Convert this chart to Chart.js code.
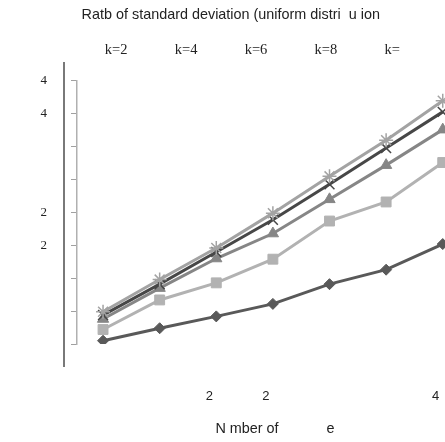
<!DOCTYPE html>
<html>
<head>
<meta charset="utf-8">
<script src="https://cdn.jsdelivr.net/npm/chart.js@4.4.1/dist/chart.umd.min.js"></script>
<style>
  html, body { margin: 0; padding: 0; background: #fff; }
  canvas { display: block; }
</style>
</head>
<body>
<canvas id="chart" width="445" height="442"></canvas>
<script>
// values
const xLabels = ['', '', '2', '2', '', '', '4'];
const yTickValues = [0.5, 1, 1.5, 2, 2.5, 3, 3.5, 4, 4.5];
const yTickLabels = ['', '', '', '2', '2', '', '', '4', '4'];

const seriesNames = ['k=2', 'k=4', 'k=6', 'k=8', 'k='];
const k2 = [0.55, 0.74, 0.92, 1.11, 1.41, 1.63, 2.02];
const k4 = [0.72, 1.17, 1.43, 1.79, 2.37, 2.66, 3.26];
const k6 = [0.88, 1.35, 1.80, 2.18, 2.70, 3.22, 3.76];
const k8 = [0.94, 1.41, 1.90, 2.39, 2.93, 3.48, 4.03];
const k10 = [0.99, 1.48, 1.96, 2.49, 3.05, 3.60, 4.20];

const titleText = 'Ratb of standard deviation (uniform distri  u ion';
const xTitleText = '       N mber of            e';

const styles = [
    { color: '#595959', point: 'rectRot', radius: 5.5 },
    { color: '#b2b2b2', point: 'rect', radius: 7 },
    { color: '#868686', point: 'triangle', radius: 6.5 },
    { color: '#474747', point: 'crossRot', radius: 7 },
    { color: '#a3a3a3', point: 'star', radius: 7 }
];

const allSeries = [k2, k4, k6, k8, k10];

// later series are painted on top, like the original
const datasets = allSeries.map((vals, i) => ({
    label: seriesNames[i],
    data: vals.map((v, j) => ({ x: j + 1, y: v })),
    borderColor: styles[i].color,
    backgroundColor: styles[i].color,
    borderWidth: 3,
    pointStyle: styles[i].point,
    pointRadius: styles[i].radius,
    pointBorderWidth: i >= 3 ? 1.5 : 1,
    order: allSeries.length - i,
    tension: 0
}));

// the dark frame line left of the value axis
const leftRule = {
    id: 'leftRule',
    afterDraw(chart) {
        const { ctx, chartArea } = chart;
        const x = chartArea.left - 13;
        ctx.save();
        ctx.strokeStyle = '#4d4d4d';
        ctx.lineWidth = 1.5;
        ctx.beginPath();
        ctx.moveTo(x, chartArea.top - 19);
        ctx.lineTo(x, chartArea.bottom + 23);
        ctx.stroke();
        ctx.restore();
    }
};

new Chart(document.getElementById('chart'), {
    type: 'line',
    data: { datasets },
    options: {
        responsive: false,
        animation: false,
        layout: { autoPadding: false, padding: { left: 16.5, right: 0, top: 0, bottom: 4 } },
        plugins: {
            title: {
                display: true,
                text: titleText,
                color: '#222',
                font: { family: 'Liberation Sans', size: 14.4, weight: 'normal' },
                padding: { top: 6.5, bottom: 1.2 }
            },
            legend: {
                display: true,
                labels: {
                    boxWidth: 36,
                    boxHeight: 42,
                    padding: 4,
                    color: '#222',
                    font: { family: 'Liberation Serif', size: 14.5 },
                    // no swatches in the original legend, only the names
                    generateLabels: (chart) => Chart.defaults.plugins.legend.labels.generateLabels(chart)
                        .sort((a, b) => a.datasetIndex - b.datasetIndex)
                        .map(item => ({ ...item, fillStyle: 'rgba(0,0,0,0)', strokeStyle: 'rgba(0,0,0,0)', lineWidth: 0 }))
                }
            },
            tooltip: { enabled: false }
        },
        scales: {
            x: {
                type: 'linear',
                min: 0.54,
                max: 7.04,
                grid: { display: false, drawTicks: false },
                border: { display: false },
                afterFit: (scale) => {
                    scale.paddingLeft = 0;
                    scale.paddingRight = 0;
                    scale.height = 94;
                },
                ticks: {
                    stepSize: 1,
                    includeBounds: false,
                    autoSkip: false,
                    maxRotation: 0,
                    padding: 45,
                    labelOffset: -7,
                    color: '#222',
                    font: { family: 'Liberation Sans', size: 13 },
                    callback: (v) => xLabels[Math.round(v) - 1] ?? ''
                },
                title: {
                    display: true,
                    text: xTitleText,
                    color: '#222',
                    font: { family: 'Liberation Sans', size: 14.4 },
                    padding: { top: 0, bottom: 0 }
                }
            },
            y: {
                min: 0.5,
                max: 4.5,
                grid: { display: true, drawOnChartArea: false, tickLength: 6, color: '#a0a0a0' },
                border: { display: true, color: '#b0b0b0', width: 1.5 },
                ticks: {
                    stepSize: 0.5,
                    autoSkip: false,
                    padding: 24,
                    color: '#222',
                    font: { family: 'Liberation Serif', size: 13 },
                    callback: (v) => yTickLabels[yTickValues.indexOf(v)] ?? ''
                }
            }
        }
    },
    plugins: [leftRule]
});
</script>
</body>
</html>
